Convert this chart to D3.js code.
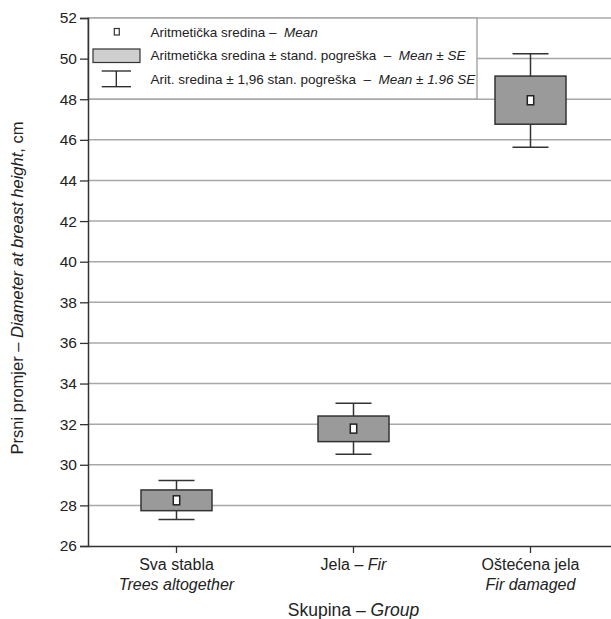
<!DOCTYPE html>
<html><head><meta charset="utf-8">
<script src="https://cdn.jsdelivr.net/npm/d3@7"></script>
<style>body{margin:0;background:#fff}svg{display:block}text{font-family:"Liberation Sans",Arial,sans-serif;fill:#222}</style>
</head><body>
<svg id="c" width="611" height="619"></svg>
<script>
const categories = ["Sva stabla", "Jela – ", "Oštećena jela"];
const categoriesEn = ["Trees altogether", "Fir", "Fir damaged"];
const means = [28.25, 31.78, 47.95];
const seLow = [27.74, 31.14, 46.77];
const seHigh = [28.76, 32.40, 49.14];
const ciLow = [27.30, 30.52, 45.63];
const ciHigh = [29.22, 33.03, 50.24];
const yTicks = [26,28,30,32,34,36,38,40,42,44,46,48,50,52];

const svg = d3.select("#c");
const L = 88, T = 18, B = 546, R = 619;
const y = d3.scaleLinear().domain([26,52]).range([B,T]);
const x = d3.scaleBand().domain(categories).range([L,R]);
const cx = i => x(categories[i]) + x.bandwidth()/2;

// gridlines
svg.append("g").selectAll("line").data(yTicks.filter(v=>v>26)).join("line")
  .attr("x1",L).attr("x2",611).attr("y1",d=>y(d)).attr("y2",d=>y(d))
  .attr("stroke","#a8a8a8").attr("stroke-width",1.5);

// legend
const lg = svg.append("g");
lg.append("rect").attr("x",L).attr("y",T).attr("width",477-L).attr("height",99-T)
  .attr("fill","#fff").attr("stroke","#a8a8a8").attr("stroke-width",1.5);
lg.append("rect").attr("x",114.3).attr("y",28.5).attr("width",5).attr("height",6.5)
  .attr("fill","#fff").attr("stroke","#333").attr("stroke-width",1.2);
lg.append("rect").attr("x",93).attr("y",49).attr("width",47).attr("height",13.5)
  .attr("fill","#cfcfcf").attr("stroke","#333").attr("stroke-width",1.2);
lg.append("line").attr("x1",101.7).attr("x2",131).attr("y1",71).attr("y2",71).attr("stroke","#222").attr("stroke-width",1.3);
lg.append("line").attr("x1",101.7).attr("x2",131).attr("y1",86.7).attr("y2",86.7).attr("stroke","#222").attr("stroke-width",1.3);
lg.append("line").attr("x1",116.3).attr("x2",116.3).attr("y1",71).attr("y2",86.7).attr("stroke","#222").attr("stroke-width",1.3);
const legTexts = [
  ["Aritmetička sredina –  ","Mean"],
  ["Aritmetička sredina ± stand. pogreška  –  ","Mean ± SE"],
  ["Arit. sredina ± 1,96 stan. pogreška  –  ","Mean ± 1.96 SE"]
];
legTexts.forEach((t,i)=>{
  const tx = lg.append("text").attr("x",150.5).attr("y",36.5+i*23.5).attr("font-size",13.5)
    .attr("xml:space","preserve").style("white-space","pre");
  tx.append("tspan").text(t[0]);
  tx.append("tspan").attr("font-style","italic").text(t[1]);
});

// whiskers and boxes
const g = svg.append("g");
categories.forEach((c,i)=>{
  const xc = cx(i);
  g.append("line").attr("x1",xc).attr("x2",xc).attr("y1",y(ciHigh[i])).attr("y2",y(ciLow[i]))
    .attr("stroke","#333").attr("stroke-width",1.5);
  [ciHigh[i],ciLow[i]].forEach(v=>{
    g.append("line").attr("x1",xc-18).attr("x2",xc+18).attr("y1",y(v)).attr("y2",y(v))
      .attr("stroke","#333").attr("stroke-width",1.5);
  });
  g.append("rect").attr("x",xc-35.5).attr("width",71)
    .attr("y",y(seHigh[i])).attr("height",y(seLow[i])-y(seHigh[i]))
    .attr("fill","#9a9a9a").attr("stroke","#333").attr("stroke-width",1.5);
  g.append("rect").attr("x",xc-3.2).attr("width",6.4)
    .attr("y",y(means[i])-4.5).attr("height",9)
    .attr("fill","#fff").attr("stroke","#222").attr("stroke-width",1.5);
});

// y axis
const ya = svg.append("g").attr("transform",`translate(${L},0)`)
  .call(d3.axisLeft(y).tickValues(yTicks).tickSize(8).tickPadding(3).tickFormat(d3.format("d")));
ya.select(".domain").attr("stroke","#333").attr("stroke-width",1.5);
ya.selectAll(".tick line").attr("stroke","#333").attr("stroke-width",1.3);
ya.selectAll(".tick text").attr("font-size",15.5).attr("font-family","Liberation Sans, Arial, sans-serif").attr("fill","#222");

// x axis
const xa = svg.append("g").attr("transform",`translate(0,${B})`)
  .call(d3.axisBottom(x).tickSize(7).tickSizeOuter(0).tickFormat(()=>""));
xa.select(".domain").attr("stroke","#333").attr("stroke-width",1.5);
xa.selectAll(".tick line").attr("stroke","#333").attr("stroke-width",1.3);

categories.forEach((c,i)=>{
  const xc = cx(i);
  if(i===1){
    const t = svg.append("text").attr("x",xc).attr("y",570).attr("text-anchor","middle").attr("font-size",16);
    t.append("tspan").text(c);
    t.append("tspan").attr("font-style","italic").text(categoriesEn[i]);
  } else {
    svg.append("text").attr("x",xc).attr("y",570).attr("text-anchor","middle").attr("font-size",16).text(c);
    svg.append("text").attr("x",xc).attr("y",590).attr("text-anchor","middle").attr("font-size",16)
      .attr("font-style","italic").text(categoriesEn[i]);
  }
});

const xt = svg.append("text").attr("x",cx(1)).attr("y",616).attr("text-anchor","middle").attr("font-size",17.5);
xt.append("tspan").text("Skupina – ");
xt.append("tspan").attr("font-style","italic").text("Group");

const yt = svg.append("text").attr("transform",`translate(23,288) rotate(-90)`)
  .attr("text-anchor","middle").attr("font-size",16.5);
yt.append("tspan").text("Prsni promjer – ");
yt.append("tspan").attr("font-style","italic").text("Diameter at breast height");
yt.append("tspan").text(", cm");
</script>
</body></html>
